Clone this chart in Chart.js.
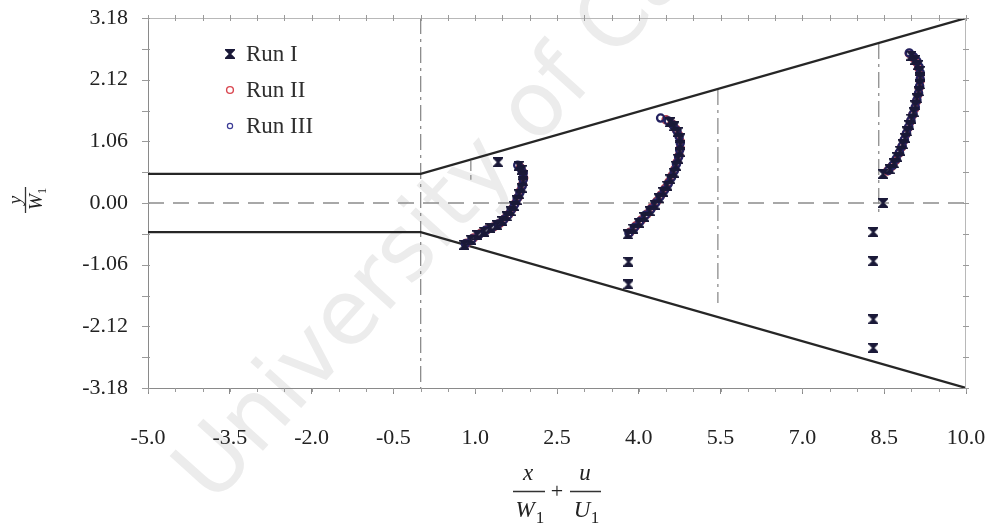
<!DOCTYPE html>
<html>
<head>
<meta charset="utf-8">
<script src="https://cdn.jsdelivr.net/npm/chart.js@4/dist/chart.umd.min.js"></script>
<style>
  html, body { margin: 0; padding: 0; background: #fff; }
  #wrap { width: 994px; height: 531px; }
</style>
</head>
<body>
<div id="wrap"><canvas id="c" width="994" height="531"></canvas></div>
<script>
// Axis ticks
const xTickValues = [-5, -3.5, -2, -0.5, 1, 2.5, 4, 5.5, 7, 8.5, 10];
const xTickLabels = ['-5.0', '-3.5', '-2.0', '-0.5', '1.0', '2.5', '4.0', '5.5', '7.0', '8.5', '10.0'];
const yTickValues = [-3.18, -2.12, -1.06, 0, 1.06, 2.12, 3.18];
const yTickLabels = ['-3.18', '-2.12', '-1.06', '0.00', '1.06', '2.12', '3.18'];
const seriesNames = ['Run I', 'Run II', 'Run III'];

// Measured profiles [x/W1 + u/U1, y/W1]
const runI = [
  [0.80,-0.72],[0.92,-0.63],[1.04,-0.55],[1.16,-0.49],[1.28,-0.43],[1.40,-0.38],[1.50,-0.31],[1.58,-0.23],
  [1.65,-0.14],[1.71,-0.05],[1.76,0.05],[1.81,0.15],[1.85,0.26],[1.88,0.37],[1.88,0.48],[1.85,0.57],[1.80,0.64],
  [1.42,0.70],
  [3.80,-0.54],[3.90,-0.44],[4.00,-0.34],[4.10,-0.24],[4.20,-0.14],[4.29,-0.03],[4.37,0.08],[4.45,0.19],
  [4.52,0.30],[4.58,0.41],[4.64,0.52],[4.68,0.64],[4.72,0.76],[4.75,0.88],[4.76,1.00],[4.75,1.11],[4.71,1.22],
  [4.65,1.32],[4.57,1.39],
  [3.81,-1.01],[3.81,-1.40],
  [8.48,0.50],[8.60,0.58],[8.68,0.68],[8.74,0.79],[8.79,0.90],[8.84,1.01],[8.88,1.12],[8.92,1.23],[8.96,1.34],
  [9.00,1.45],[9.04,1.56],[9.07,1.68],[9.10,1.80],[9.13,1.92],[9.15,2.04],[9.16,2.16],[9.15,2.27],[9.12,2.37],
  [9.07,2.46],[9.00,2.53],
  [8.48,0.00],[8.30,-0.50],[8.30,-1.00],[8.30,-2.00],[8.30,-2.49]
];
const runII = [
  [0.84,-0.69],[0.97,-0.60],[1.10,-0.52],[1.22,-0.46],[1.34,-0.41],[1.45,-0.35],[1.54,-0.27],[1.62,-0.19],
  [1.68,-0.10],[1.74,0.00],[1.79,0.10],[1.83,0.21],[1.87,0.32],[1.89,0.43],[1.87,0.53],[1.83,0.61],
  [3.84,-0.50],[3.95,-0.39],[4.05,-0.29],[4.15,-0.19],[4.24,-0.08],[4.33,0.03],[4.41,0.14],[4.48,0.25],
  [4.55,0.36],[4.61,0.47],[4.66,0.58],[4.70,0.70],[4.74,0.82],[4.76,0.94],[4.76,1.06],[4.73,1.17],[4.68,1.27],
  [4.61,1.36],[4.50,1.43],
  [8.56,0.55],[8.64,0.63],[8.71,0.73],[8.77,0.85],[8.82,0.96],[8.86,1.07],[8.90,1.18],[8.94,1.29],[8.98,1.40],
  [9.02,1.51],[9.06,1.62],[9.09,1.74],[9.12,1.86],[9.14,1.98],[9.16,2.10],[9.16,2.21],[9.13,2.32],[9.09,2.42],
  [9.03,2.50],[8.96,2.57]
];
const runIII = [
  [0.82,-0.70],[0.94,-0.62],[1.07,-0.54],[1.19,-0.47],[1.31,-0.42],[1.42,-0.36],[1.52,-0.29],[1.60,-0.21],
  [1.66,-0.12],[1.72,-0.03],[1.77,0.08],[1.82,0.18],[1.86,0.29],[1.88,0.40],[1.88,0.51],[1.84,0.59],[1.78,0.65],
  [3.82,-0.52],[3.92,-0.42],[4.02,-0.32],[4.12,-0.21],[4.22,-0.11],[4.31,0.00],[4.39,0.11],[4.47,0.22],
  [4.54,0.33],[4.60,0.44],[4.65,0.55],[4.69,0.67],[4.73,0.79],[4.75,0.91],[4.76,1.03],[4.74,1.14],[4.70,1.24],
  [4.63,1.34],[4.54,1.41],[4.40,1.46],
  [8.58,0.56],[8.66,0.65],[8.72,0.76],[8.78,0.87],[8.83,0.98],[8.87,1.09],[8.91,1.20],[8.95,1.31],[8.99,1.42],
  [9.03,1.53],[9.07,1.65],[9.10,1.77],[9.13,1.89],[9.15,2.01],[9.16,2.13],[9.16,2.24],[9.14,2.34],[9.10,2.44],
  [9.04,2.51],[8.96,2.58]
];

// Channel walls and reference lines
const upperWall = [[-5, 0.5], [0, 0.5], [10, 3.18]];
const lowerWall = [[-5, -0.5], [0, -0.5], [10, -3.18]];
const centreLine = [[-5, 0], [10, 0]];
const inletLine = [[0, 3.18], [0, -3.18]];
const stationA = [[0.92, 0.72], [0.92, 0.40]];
const stationB = [[5.45, 1.96], [5.45, -1.72]];
const stationC = [[8.40, 2.75], [8.40, -0.20]];

const minorStepX = 0.5;
const minorStepY = 0.53;

const pts = arr => arr.map(([x, y]) => ({ x, y }));

function hourglass(size, color) {
  const c = document.createElement('canvas');
  c.width = c.height = size;
  const g = c.getContext('2d');
  g.fillStyle = color; g.strokeStyle = color; g.lineWidth = 1.8;
  g.beginPath();
  g.moveTo(1, 1); g.lineTo(size - 1, 1); g.lineTo(1, size - 1); g.lineTo(size - 1, size - 1);
  g.closePath(); g.fill(); g.stroke();
  return c;
}
const runIMarker = hourglass(10, '#1a1938');

const guide = (data, dash) => ({
  data: pts(data), showLine: true, pointRadius: 0, borderColor: '#8c8c8c',
  borderWidth: 1.3, borderDash: dash, fill: false
});
const wall = data => ({
  data: pts(data), showLine: true, pointRadius: 0, borderColor: '#262626',
  borderWidth: 2.2, fill: false
});

const serif = 'Liberation Serif, Times New Roman, serif';

const decor = {
  id: 'decor',
  beforeDraw(chart) {
    const ctx = chart.ctx;
    ctx.save();
    ctx.translate(196, 490);
    ctx.rotate(-48 * Math.PI / 180);
    ctx.font = '90px DejaVu Sans, Liberation Sans, sans-serif';
    ctx.fillStyle = '#ececec';
    ctx.textAlign = 'left';
    ctx.textBaseline = 'middle';
    ctx.fillText('University of Cape Town', 0, 0);
    ctx.restore();
  },
  afterDraw(chart) {
    const { ctx, chartArea: a, scales: { x, y } } = chart;
    ctx.save();
    // top and right frame
    ctx.strokeStyle = '#b8b8b8';
    ctx.lineWidth = 1;
    ctx.beginPath();
    ctx.moveTo(a.left, a.top + 0.5); ctx.lineTo(a.right, a.top + 0.5);
    ctx.moveTo(a.right - 0.5, a.top); ctx.lineTo(a.right - 0.5, a.bottom);
    ctx.stroke();
    // minor ticks
    ctx.strokeStyle = '#9a9a9a';
    ctx.beginPath();
    for (let v = x.min; v <= x.max + 1e-6; v += minorStepX) {
      const px = Math.round(x.getPixelForValue(v)) + 0.5;
      ctx.moveTo(px, a.top - 3); ctx.lineTo(px, a.top + 3);
      ctx.moveTo(px, a.bottom); ctx.lineTo(px, a.bottom + 4);
    }
    for (let v = y.min; v <= y.max + 1e-6; v += minorStepY) {
      const py = Math.round(y.getPixelForValue(v)) + 0.5;
      ctx.moveTo(a.left - 6, py); ctx.lineTo(a.left + 2, py);
      ctx.moveTo(a.right - 3, py); ctx.lineTo(a.right + 3, py);
    }
    ctx.stroke();

    // legend
    const rows = [54, 90, 126];
    const lx = 230;
    ctx.drawImage(runIMarker, lx - 5, rows[0] - 5);
    ctx.lineWidth = 1.4;
    ctx.strokeStyle = '#d9464f';
    ctx.beginPath(); ctx.arc(lx, rows[1], 3.4, 0, Math.PI * 2); ctx.stroke();
    ctx.strokeStyle = '#3c3c96';
    ctx.lineWidth = 1.2;
    ctx.beginPath(); ctx.arc(lx, rows[2], 2.6, 0, Math.PI * 2); ctx.stroke();
    ctx.fillStyle = '#2e2e2e';
    ctx.font = '23px ' + serif;
    ctx.textAlign = 'left';
    ctx.textBaseline = 'middle';
    seriesNames.forEach((n, i) => ctx.fillText(n, lx + 16, rows[i] + 1));

    // x-axis title: x/W1 + u/U1
    ctx.fillStyle = '#222';
    ctx.strokeStyle = '#333';
    ctx.lineWidth = 1.3;
    ctx.textAlign = 'center';
    ctx.textBaseline = 'alphabetic';
    ctx.font = 'italic 23px ' + serif;
    ctx.fillText('x', 528, 480);
    ctx.fillText('u', 585, 480);
    ctx.beginPath();
    ctx.moveTo(513, 491.5); ctx.lineTo(545, 491.5);
    ctx.moveTo(570, 491.5); ctx.lineTo(601, 491.5);
    ctx.stroke();
    ctx.fillText('W', 525, 517);
    ctx.fillText('U', 582, 517);
    ctx.font = '17px ' + serif;
    ctx.fillText('1', 540, 523);
    ctx.fillText('1', 595, 523);
    ctx.font = '22px ' + serif;
    ctx.textBaseline = 'middle';
    ctx.fillText('+', 557, 492);

    // y-axis title: y/W1
    ctx.translate(25, 200);
    ctx.rotate(-Math.PI / 2);
    ctx.textBaseline = 'alphabetic';
    ctx.font = 'italic 19px ' + serif;
    ctx.fillText('y', 0, -4);
    ctx.beginPath(); ctx.moveTo(-13, 0.5); ctx.lineTo(13, 0.5); ctx.stroke();
    ctx.fillText('W', -2, 17);
    ctx.font = '13px ' + serif;
    ctx.fillText('1', 9, 21);
    ctx.restore();
  }
};

new Chart(document.getElementById('c'), {
  type: 'scatter',
  data: {
    datasets: [
      { label: seriesNames[0], data: pts(runI), pointStyle: runIMarker, pointRadius: 5 },
      { label: seriesNames[2], data: pts(runIII), pointStyle: 'circle', pointRadius: 3.6,
        borderColor: '#23215f', backgroundColor: 'rgba(0,0,0,0)', borderWidth: 2.3 },
      { label: seriesNames[1], data: pts(runII), pointStyle: 'circle', pointRadius: 3.8,
        borderColor: '#b0404e', backgroundColor: 'rgba(0,0,0,0)', borderWidth: 1.8 },
      wall(upperWall),
      wall(lowerWall),
      guide(centreLine, [16, 9]),
      guide(inletLine, [16, 5, 3, 5]),
      guide(stationA, [10, 4]),
      guide(stationB, [16, 5, 3, 5]),
      guide(stationC, [16, 5, 3, 5])
    ]
  },
  options: {
    responsive: false,
    animation: false,
    devicePixelRatio: 1,
    layout: { padding: { left: 0, right: 28, top: 18, bottom: 0 } },
    plugins: { legend: { display: false }, tooltip: { enabled: false } },
    scales: {
      x: {
        type: 'linear', min: -5, max: 10,
        afterBuildTicks: s => { s.ticks = xTickValues.map(v => ({ value: v })); },
        afterFit: s => { s.height = 143; },
        ticks: {
          callback: (v, i) => xTickLabels[i],
          font: { family: serif, size: 22, lineHeight: 3.8 }, color: '#222', padding: 2, maxRotation: 0
        },
        grid: { drawOnChartArea: false, tickLength: 6, color: '#8a8a8a' },
        border: { color: '#8a8a8a', width: 1 }
      },
      y: {
        type: 'linear', min: -3.18, max: 3.18,
        afterBuildTicks: s => { s.ticks = yTickValues.map(v => ({ value: v })); },
        afterFit: s => { s.width = 148; },
        ticks: {
          callback: (v, i) => yTickLabels[i],
          font: { family: serif, size: 22 }, color: '#222', padding: 4
        },
        grid: { drawOnChartArea: false, tickLength: 16, tickColor: 'rgba(0,0,0,0)' },
        border: { color: '#8a8a8a', width: 1 }
      }
    }
  },
  plugins: [decor]
});
</script>
</body>
</html>
